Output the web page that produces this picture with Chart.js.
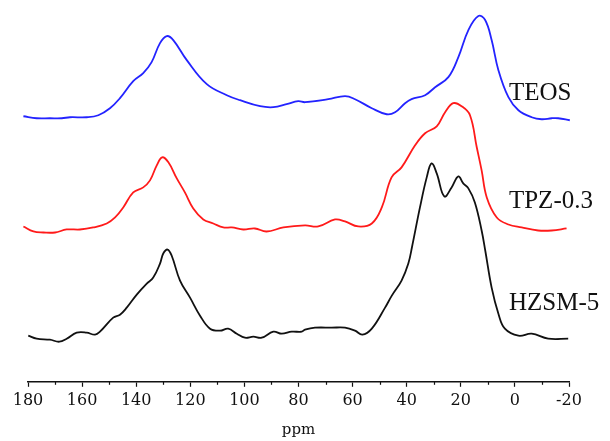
<!DOCTYPE html>
<html>
<head>
<meta charset="utf-8">
<script src="https://cdn.jsdelivr.net/npm/chart.js@4/dist/chart.umd.min.js"></script>
<style>
  html, body { margin: 0; padding: 0; background: #fff; }
  #wrap { width: 610px; height: 441px; }
</style>
</head>
<body>
<div id="wrap"><canvas id="nmr"></canvas></div>
<script>
// chemical shift (ppm) and stacked intensity (a.u.)
const teosPpm = [181.7, 176.8, 171.9, 167.5, 164.5, 158.3, 154.0, 149.7, 146.0, 141.1, 137.4, 134.3, 131.2, 128.7, 126.3, 121.3, 113.9, 106.5, 101.6, 94.2, 89.3, 84.4, 80.1, 77.6, 69.0, 62.8, 59.1, 52.9, 47.4, 44.3, 40.6, 38.2, 33.2, 29.5, 24.6, 20.9, 17.2, 13.5, 11.0, 8.6, 6.1, 2.4, -1.3, -6.2, -9.9, -13.6, -16.0, -20.3];
const teosInt = [265, 263, 263, 263, 264, 264, 266, 273, 283, 300, 308, 319, 338, 345, 341, 321, 297, 286, 281, 275, 274, 277, 280, 279, 282, 285, 282, 273, 267, 269, 278, 282, 286, 294, 304, 324, 351, 365, 361, 341, 311, 284, 271, 264, 262, 263, 263, 261];

const tpzPpm = [181.7, 178.0, 174.3, 170.0, 165.7, 160.8, 155.9, 150.9, 147.8, 144.8, 141.1, 137.4, 134.9, 132.4, 130.4, 128.1, 125.0, 122.0, 118.9, 115.2, 111.5, 107.8, 104.7, 100.4, 96.1, 91.8, 85.6, 77.6, 72.7, 66.5, 62.8, 57.9, 52.9, 49.2, 45.6, 41.9, 36.9, 33.2, 28.9, 25.8, 22.8, 19.7, 16.6, 14.1, 12.3, 10.4, 6.7, 2.4, -2.5, -8.6, -13.6, -19.1];
const tpzInt = [155, 150, 149, 149, 152, 152, 154, 158, 164, 174, 189, 194, 201, 216, 224, 219, 203, 189, 173, 162, 158, 154, 154, 152, 153, 150, 154, 156, 155, 162, 160, 155, 158, 174, 204, 214, 236, 248, 255, 269, 278, 275, 266, 234, 211, 184, 164, 157, 154, 151, 151, 153];

const hzsmPpm = [179.9, 176.8, 171.9, 168.4, 165.7, 162.0, 158.3, 155.2, 153.4, 148.5, 146.0, 143.5, 139.8, 136.1, 133.7, 131.2, 130.0, 128.4, 126.9, 123.8, 120.1, 116.4, 112.7, 109.0, 106.0, 102.8, 99.8, 96.7, 93.6, 89.3, 86.2, 82.5, 78.8, 77.6, 73.9, 67.7, 62.8, 59.1, 56.4, 52.9, 48.0, 45.5, 41.9, 39.4, 38.0, 35.1, 32.6, 30.8, 28.9, 26.1, 23.4, 20.9, 19.1, 17.2, 14.8, 12.3, 10.9, 8.6, 6.1, 3.7, -1.3, -6.2, -12.3, -19.7];
const hzsmInt = [46, 43, 42, 40, 43, 49, 49, 47, 50, 64, 67, 74, 87, 98, 104, 118, 128, 132, 126, 101, 84, 66, 53, 51, 53, 48, 44, 45, 44, 50, 48, 50, 50, 52, 54, 54, 54, 51, 47, 53, 74, 86, 101, 118, 135, 174, 204, 218, 208, 185, 194, 205, 198, 193, 179, 151, 130, 94, 68, 53, 46, 48, 43, 43];

const seriesNames = ["TEOS", "TPZ-0.3", "HZSM-5"];
const seriesColors = ["#2323ff", "#ff1a1a", "#111111"];
const xTicks = [180, 160, 140, 120, 100, 80, 60, 40, 20, 0, -20];
const xMinorTicks = [170, 150, 130, 110, 90, 70, 50, 30, 10, -10];

function pts(xs, ys) {
  return xs.map((x, i) => ({ x: x, y: ys[i] }));
}

const allPpm = [teosPpm, tpzPpm, hzsmPpm];
const allInt = [teosInt, tpzInt, hzsmInt];

const datasets = seriesNames.map((name, i) => ({
  label: name,
  data: pts(allPpm[i], allInt[i]),
  borderColor: seriesColors[i],
  borderWidth: 1.8,
  pointRadius: 0,
  tension: 0.4,
  fill: false,
  clip: false
}));

// series names written next to each trace
const nameLabels = {
  id: 'nameLabels',
  afterDatasetsDraw(chart) {
    const { ctx, scales } = chart;
    const spots = [[2.2, 288], [2.2, 180], [2.2, 78]];
    ctx.save();
    ctx.font = '25px "Liberation Serif", "Times New Roman", serif';
    ctx.fillStyle = '#111';
    ctx.textBaseline = 'middle';
    ctx.textAlign = 'left';
    seriesNames.forEach((n, i) => {
      ctx.fillText(n, scales.x.getPixelForValue(spots[i][0]), scales.y.getPixelForValue(spots[i][1]));
    });
    ctx.restore();
  }
};

// short minor ticks between the labelled ones
const minorTicks = {
  id: 'minorTicks',
  afterDraw(chart) {
    const { ctx, scales } = chart;
    const s = scales.x;
    ctx.save();
    ctx.strokeStyle = '#111';
    ctx.lineWidth = 1.2;
    xMinorTicks.forEach(v => {
      const px = Math.round(s.getPixelForValue(v)) + 0.5;
      ctx.beginPath();
      ctx.moveTo(px, s.top);
      ctx.lineTo(px, s.top + 3);
      ctx.stroke();
    });
    ctx.restore();
  }
};

new Chart(document.getElementById('nmr'), {
  type: 'line',
  data: { datasets },
  plugins: [nameLabels, minorTicks],
  options: {
    responsive: true,
    maintainAspectRatio: false,
    animation: false,
    layout: { padding: { left: 28, right: 41, top: 0, bottom: 0 } },
    plugins: {
      legend: { display: false },
      tooltip: { enabled: false }
    },
    scales: {
      x: {
        type: 'linear',
        reverse: true,
        min: -20,
        max: 180,
        afterBuildTicks: axis => { axis.ticks = xTicks.map(v => ({ value: v })); },
        ticks: {
          color: '#111',
          padding: 4,
          maxRotation: 0,
          font: { family: '"DejaVu Serif", serif', size: 16 }
        },
        grid: {
          drawOnChartArea: false,
          drawTicks: true,
          tickLength: 5,
          tickWidth: 1.2,
          tickColor: '#111'
        },
        border: { color: '#111', width: 1.5 },
        title: {
          display: true,
          text: 'ppm',
          color: '#111',
          padding: { top: 7, bottom: 2 },
          font: { family: '"DejaVu Serif", serif', size: 15 }
        }
      },
      y: {
        display: false,
        min: 0,
        max: 381
      }
    }
  }
});
</script>
</body>
</html>
